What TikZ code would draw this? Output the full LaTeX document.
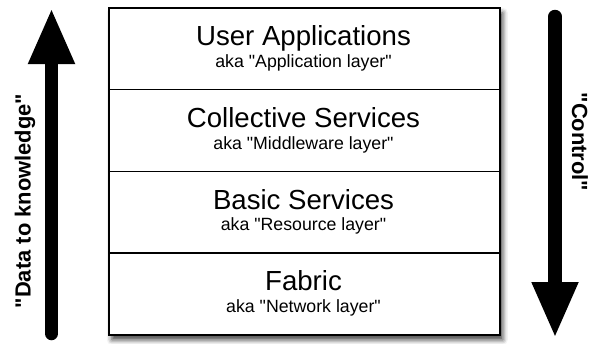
\documentclass[tikz,border=0pt]{standalone}
\usepackage{fontspec}
\setmainfont{Liberation Sans}[Ligatures=TeXOff]
\usetikzlibrary{arrows.meta,shadows.blur}
\tikzset{
  layerbox/.style={draw=black, line width=1.6bp, fill=white, minimum width=391bp, minimum height=81.75bp, inner sep=0pt, anchor=north west},
  titletext/.style={font=\fontsize{27.7}{30}\selectfont, anchor=base, inner sep=0pt},
  subtext/.style={font=\fontsize{17.8}{20}\selectfont, anchor=base, inner sep=0pt},
  bigarrow/.style={line width=13.5bp, line cap=round, -{Triangle[width=43bp,length=56bp]}},
  arrowlabel/.style={font=\bfseries\fontsize{22}{24}\selectfont, inner sep=0pt},
}
\begin{document}
\begin{tikzpicture}[x=1bp,y=-1bp]
\useasboundingbox (0,0) rectangle (594,343);
% outer frame with shadow
\node[draw=black, line width=1.6bp, fill=white, minimum width=391bp, minimum height=327bp, inner sep=0pt, anchor=north west,
  blur shadow={shadow xshift=3bp, shadow yshift=-5bp, shadow blur radius=5bp, shadow opacity=75}] (frame) at (108,7) {};
% layers
\node[layerbox] (l1) at (108,7) {};
\node[layerbox] (l2) at (108,88.75) {};
\node[layerbox] (l3) at (108,170.5) {};
\node[layerbox] (l4) at (108,252.25) {};
% texts
\node[titletext] (t1) at (303.5,45.5) {User Applications};
\node[subtext] (s1) at (303.5,67.2) {aka "Application layer"};
\node[titletext] (t2) at (303.5,127.25) {Collective Services};
\node[subtext] (s2) at (303.5,149) {aka "Middleware layer"};
\node[titletext] (t3) at (303.5,209) {Basic Services};
\node[subtext] (s3) at (303.5,230.7) {aka "Resource layer"};
\node[titletext] (t4) at (303.5,290.75) {Fabric};
\node[subtext] (s4) at (303.5,312.5) {aka "Network layer"};
% arrows
\coordinate (lb) at (51.5,333.5);
\coordinate (lt) at (51.5,8);
\coordinate (rt) at (555,16.5);
\coordinate (rb) at (555,338);
\draw[bigarrow] (lb) -- (lt);
\draw[bigarrow] (rt) -- (rb);
% labels
\node[arrowlabel, rotate=90] (dk) at (25,201) {"Data to knowledge"};
\node[arrowlabel, rotate=-90] (ct) at (580,142) {"Control"};
\end{tikzpicture}
\end{document}
